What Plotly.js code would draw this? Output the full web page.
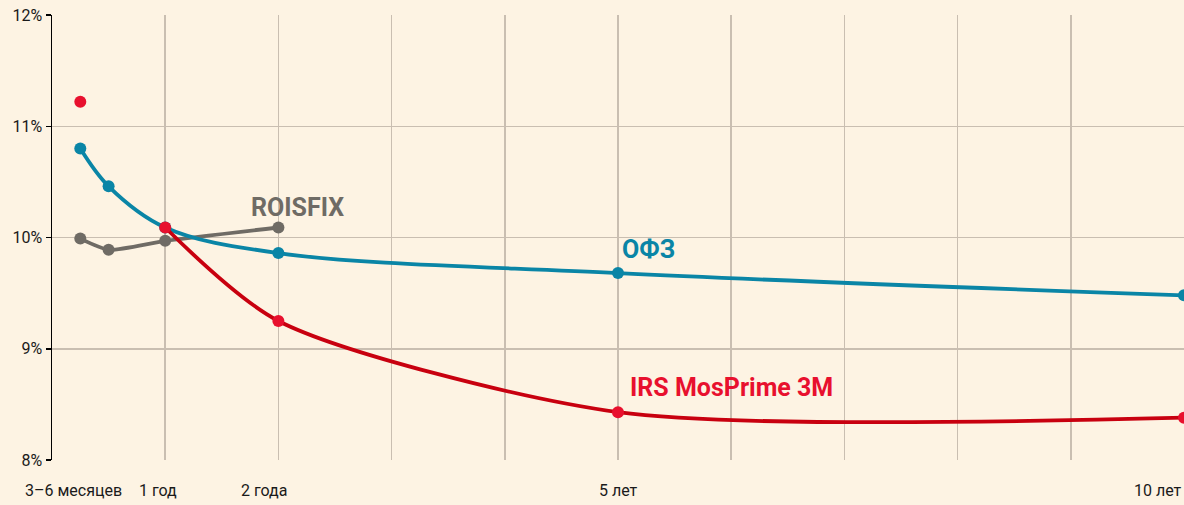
<!DOCTYPE html>
<html>
<head>
<meta charset="utf-8">
<script src="https://cdn.plot.ly/plotly-3.0.1.min.js"></script>
<style>
html,body{margin:0;padding:0;background:#fdf3e3;}
#chart{width:1184px;height:505px;}
</style>
</head>
<body>
<div id="chart"></div>
<script>
// Tenors in years
const tenors = [0.25, 0.5, 1, 2, 5, 10];
// ОФЗ yields, %
const ofzYields = [10.80, 10.46, 10.09, 9.86, 9.68, 9.48];
// IRS MosPrime 3M, %
const irsYields = [11.22, null, 10.09, 9.25, 8.43, 8.38];
// ROISFIX, %
const roisTenors = [0.25, 0.5, 1, 2];
const roisYields = [9.99, 9.89, 9.97, 10.09];

const xLabels = ["3–6 месяцев", "1 год", "2 года", "5 лет", "10 лет"];
const xLabelPos = [0.19, 0.94, 1.87, 5.0, 10.0];
const yTicks = [8, 9, 10, 11, 12];
const yTickText = ["8%", "9%", "10%", "11%", "12%"];

const blue = "#0a85a6", red = "#e8102e", darkRed = "#c8000f", gray = "#6f6b65";
const cond = "'Liberation Sans Narrow', 'Roboto', 'DejaVu Sans Condensed', sans-serif";

const traces = [
  {x: roisTenors, y: roisYields, mode: "lines+markers", line: {color: gray, width: 3.8, shape: "spline", smoothing: 0.6}, marker: {color: gray, size: 12}, hoverinfo: "skip"},
  {x: tenors, y: ofzYields, mode: "lines+markers", line: {color: blue, width: 3.8, shape: "spline", smoothing: 1}, marker: {color: blue, size: 12}, hoverinfo: "skip"},
  {x: tenors, y: irsYields, mode: "lines", connectgaps: false, line: {color: darkRed, width: 3.8, shape: "spline", smoothing: 0.75}, hoverinfo: "skip"},
  {x: tenors, y: irsYields, mode: "markers", marker: {color: red, size: 12}, hoverinfo: "skip"}
];

const annotations = xLabels.map((t, i) => ({
  text: t, x: xLabelPos[i], xref: "x", y: -0.068, yref: "paper",
  xanchor: i === xLabels.length - 1 ? "right" : "center", yanchor: "middle",
  showarrow: false, font: {family: cond, size: 16, color: "#1a1a1a"}
}));
annotations.push(
  {text: "<b>ROISFIX</b>", x: 2.17, y: 10.27, xref: "x", yref: "y", showarrow: false, font: {family: cond, size: 25, color: gray}},
  {text: "<b>ОФЗ</b>", x: 5.27, y: 9.89, xref: "x", yref: "y", showarrow: false, font: {family: cond, size: 25, color: blue}},
  {text: "<b>IRS MosPrime 3M</b>", x: 6.0, y: 8.65, xref: "x", yref: "y", showarrow: false, font: {family: cond, size: 25, color: red}}
);

const layout = {
  width: 1184, height: 505,
  paper_bgcolor: "#fdf3e3", plot_bgcolor: "#fdf3e3",
  margin: {l: 52, r: 0, t: 15, b: 45},
  showlegend: false,
  xaxis: {range: [0, 10], dtick: 1, tick0: 0, showticklabels: false, showgrid: true, gridcolor: "#c9beb1", gridwidth: 1.5, zeroline: false, showline: false, ticks: ""},
  yaxis: {range: [8, 12], tickvals: yTicks, ticktext: yTickText, showgrid: true, gridcolor: "#c9beb1", gridwidth: 1.5, zeroline: false,
    showline: true, linecolor: "#000", linewidth: 1.5, ticks: "outside", ticklen: 5, tickcolor: "#000", tickwidth: 1.5,
    tickfont: {family: cond, size: 16, color: "#1a1a1a"}},
  annotations: annotations
};

Plotly.newPlot("chart", traces, layout, {staticPlot: true});
</script>
</body>
</html>
